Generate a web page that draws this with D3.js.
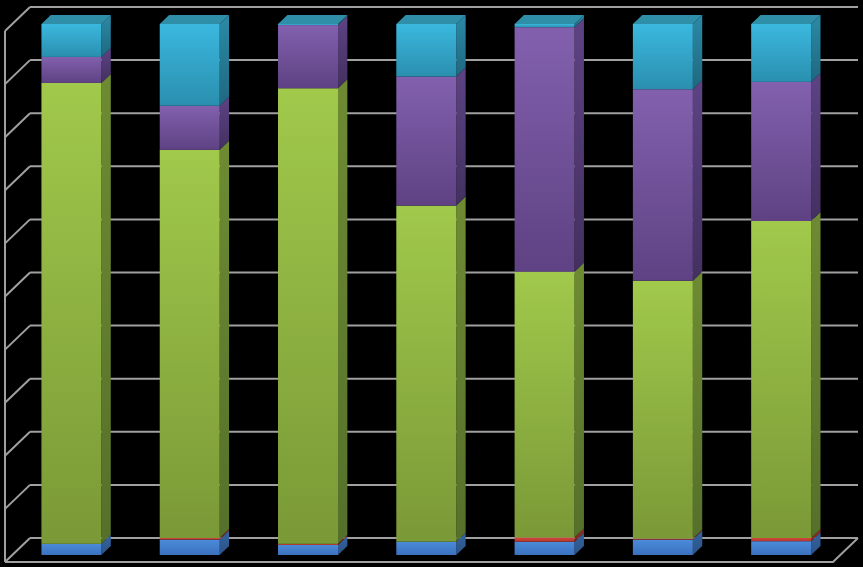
<!DOCTYPE html>
<html>
<head>
<meta charset="utf-8">
<script src="https://cdn.jsdelivr.net/npm/d3@7"></script>
<style>
  html, body { margin: 0; padding: 0; background: #000; }
  svg { display: block; }
</style>
</head>
<body>
<svg id="chart" width="863" height="567"></svg>
<script>
// Chart data (percent of each column, bottom to top)
var categories = ["1", "2", "3", "4", "5", "6", "7"];
var seriesNames = ["blue", "red", "green", "purple", "cyan"];
var blue   = [2.1, 2.9, 1.9, 2.5, 2.5, 2.9, 2.6];
var red    = [0.0, 0.3, 0.2, 0.0, 0.8, 0.2, 0.6];
var green  = [86.8, 73.1, 85.8, 63.3, 50.0, 48.6, 59.7];
var purple = [4.9, 8.3, 11.9, 24.3, 46.0, 36.1, 26.2];
var cyan   = [6.2, 15.4, 0.2, 9.9, 0.6, 12.3, 10.9];
var gridTicks = [0, 0.1, 0.2, 0.3, 0.4, 0.5, 0.6, 0.7, 0.8, 0.9, 1];

// Colours per series: front top, front bottom, side top, side bottom, top face
var colors = {
  blue:   ["#4b8bd9", "#3a71be", "#34649f", "#2b5286", "#3e78bf"],
  red:    ["#d2473c", "#b3362d", "#943027", "#7a271f", "#c0423a"],
  green:  ["#a1c94b", "#7a9937", "#6e8b33", "#55702a", "#8fb143"],
  purple: ["#8260ae", "#5e4283", "#5d4383", "#433060", "#6f529a"],
  cyan:   ["#3bb8de", "#2a8faf", "#2b8aa6", "#1f6880", "#2f8ea8"]
};

var rows = categories.map(function(c, i) {
  return { cat: c, blue: blue[i], red: red[i], green: green[i], purple: purple[i], cyan: cyan[i] };
});

var svg = d3.select("#chart");
var W = 863, H = 567;

// 3D box: front plane, depth shift
var depth = 24;          // px of depth (y)
var depthX = 25 / 24;    // x shift per px of depth
var barZ0 = 7, barZ1 = 16; // bar front / back depth
var wallColor = "#a0a0a0";

var x = d3.scaleBand().domain(categories).range([5, 833]);
var yFront = d3.scaleLinear().domain([0, 1]).range([562, 31]);
var barWidth = x.step() * 0.507;

// project a point at front-plane x, value v and depth z
function pt(px, v, z) {
  return [px + z * depthX, yFront(v) - z];
}
function poly(points) {
  return "M" + points.map(function(p) { return p[0] + "," + p[1]; }).join("L") + "Z";
}

// gradients
var defs = svg.append("defs");
seriesNames.forEach(function(s) {
  [["front", 0, 1], ["side", 2, 3]].forEach(function(g) {
    var lg = defs.append("linearGradient")
      .attr("id", "g-" + s + "-" + g[0])
      .attr("x1", 0).attr("y1", 0).attr("x2", 0).attr("y2", 1);
    lg.append("stop").attr("offset", "0%").attr("stop-color", colors[s][g[1]]);
    lg.append("stop").attr("offset", "100%").attr("stop-color", colors[s][g[2]]);
  });
});

svg.append("rect").attr("width", W).attr("height", H).attr("fill", "#000");

// Walls and gridlines
var walls = svg.append("g")
  .attr("fill", "none")
  .attr("stroke", wallColor)
  .attr("stroke-width", 2);

walls.selectAll("line.grid")
  .data(gridTicks)
  .enter().append("line")
  .attr("class", "grid")
  .attr("x1", function(d) { return pt(5, d, depth)[0]; })
  .attr("y1", function(d) { return pt(5, d, depth)[1]; })
  .attr("x2", function(d) { return pt(833, d, depth)[0]; })
  .attr("y2", function(d) { return pt(833, d, depth)[1]; });

walls.selectAll("line.side")
  .data(gridTicks)
  .enter().append("line")
  .attr("class", "side")
  .attr("x1", function(d) { return pt(5, d, 0)[0]; })
  .attr("y1", function(d) { return pt(5, d, 0)[1]; })
  .attr("x2", function(d) { return pt(5, d, depth)[0]; })
  .attr("y2", function(d) { return pt(5, d, depth)[1]; });

// left wall front edge
walls.append("line")
  .attr("x1", 5).attr("y1", yFront(1))
  .attr("x2", 5).attr("y2", yFront(0));

// floor front and right edges
walls.append("path")
  .attr("d", "M" + pt(5, 0, 0) + "L" + pt(833, 0, 0) + "L" + pt(833, 0, depth));

// Stacked bars
var stack = d3.stack().keys(seriesNames).offset(d3.stackOffsetExpand);
var stacked = stack(rows);

var bars = svg.append("g");
categories.forEach(function(cat, i) {
  var cx = x(cat) + x.bandwidth() / 2;
  var x0 = cx - barWidth / 2, x1 = cx + barWidth / 2;
  var g = bars.append("g");
  var top = 0, topKey = null;
  stacked.forEach(function(layer) {
    var v0 = layer[i][0], v1 = layer[i][1];
    if (v1 - v0 <= 0) return;
    var s = layer.key;
    top = v1; topKey = s;
    // side face
    g.append("path")
      .attr("d", poly([pt(x1, v0, barZ0), pt(x1, v0, barZ1), pt(x1, v1, barZ1), pt(x1, v1, barZ0)]))
      .attr("fill", "url(#g-" + s + "-side)");
    // front face
    var a = pt(x0, v1, barZ0), b = pt(x1, v0, barZ0);
    g.append("rect")
      .attr("x", a[0]).attr("y", a[1])
      .attr("width", b[0] - a[0]).attr("height", b[1] - a[1])
      .attr("fill", "url(#g-" + s + "-front)");
  });
  // top face
  g.append("path")
    .attr("d", poly([pt(x0, top, barZ0), pt(x1, top, barZ0), pt(x1, top, barZ1), pt(x0, top, barZ1)]))
    .attr("fill", colors[topKey][4]);
});
</script>
</body>
</html>
